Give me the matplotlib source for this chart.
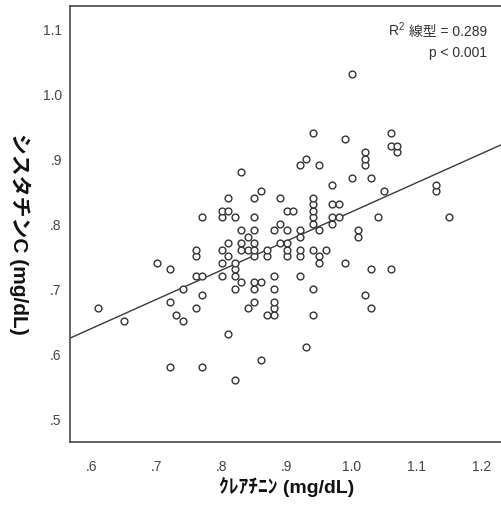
import numpy as np
import matplotlib
matplotlib.use('Agg')
import matplotlib.pyplot as plt

plt.rcParams['font.family'] = ['Liberation Sans', 'Noto Sans CJK JP', 'DejaVu Sans']
plt.rcParams['mathtext.fontset'] = 'custom'
plt.rcParams['mathtext.rm'] = 'Liberation Sans'
plt.rcParams['mathtext.it'] = 'Liberation Sans'

# creatinine (x) and cystatin C (y), one line per cystatin value
creatinine = [
    0.82,
    0.72, 0.77,
    0.86,
    0.93,
    0.81,
    0.65, 0.74,
    0.73, 0.87, 0.88, 0.94,
    0.61, 0.76, 0.84, 0.88, 1.03,
    0.72, 0.85, 0.88,
    0.77, 1.02,
    0.74, 0.82, 0.85, 0.88, 0.94,
    0.83, 0.85, 0.86,
    0.76, 0.77, 0.80, 0.82, 0.88, 0.92,
    0.72, 0.82, 1.03, 1.06,
    0.70, 0.80, 0.82, 0.95, 0.99,
    0.76, 0.81, 0.85, 0.87, 0.90, 0.92, 0.95,
    0.76, 0.80, 0.83, 0.84, 0.85, 0.87, 0.90, 0.92, 0.94, 0.96,
    0.81, 0.83, 0.85, 0.89, 0.90,
    0.84, 0.92, 1.01,
    0.83, 0.85, 0.88, 0.90, 0.92, 0.95, 1.01,
    0.89, 0.94, 0.97,
    0.77, 0.80, 0.82, 0.85, 0.94, 0.97, 0.98, 1.04, 1.15,
    0.80, 0.81, 0.90, 0.91, 0.94,
    0.94, 0.97, 0.98,
    0.81, 0.85, 0.89, 0.94,
    0.86, 1.05, 1.13,
    0.97, 1.13,
    1.00, 1.03,
    0.83,
    0.92, 0.95, 1.02,
    0.93, 1.02,
    1.02, 1.07,
    1.06, 1.07,
    0.99,
    0.94, 1.06,
    1.00,
]
cystatin = [
    0.56,
    0.58, 0.58,
    0.59,
    0.61,
    0.63,
    0.65, 0.65,
    0.66, 0.66, 0.66, 0.66,
    0.67, 0.67, 0.67, 0.67, 0.67,
    0.68, 0.68, 0.68,
    0.69, 0.69,
    0.70, 0.70, 0.70, 0.70, 0.70,
    0.71, 0.71, 0.71,
    0.72, 0.72, 0.72, 0.72, 0.72, 0.72,
    0.73, 0.73, 0.73, 0.73,
    0.74, 0.74, 0.74, 0.74, 0.74,
    0.75, 0.75, 0.75, 0.75, 0.75, 0.75, 0.75,
    0.76, 0.76, 0.76, 0.76, 0.76, 0.76, 0.76, 0.76, 0.76, 0.76,
    0.77, 0.77, 0.77, 0.77, 0.77,
    0.78, 0.78, 0.78,
    0.79, 0.79, 0.79, 0.79, 0.79, 0.79, 0.79,
    0.80, 0.80, 0.80,
    0.81, 0.81, 0.81, 0.81, 0.81, 0.81, 0.81, 0.81, 0.81,
    0.82, 0.82, 0.82, 0.82, 0.82,
    0.83, 0.83, 0.83,
    0.84, 0.84, 0.84, 0.84,
    0.85, 0.85, 0.85,
    0.86, 0.86,
    0.87, 0.87,
    0.88,
    0.89, 0.89, 0.89,
    0.90, 0.90,
    0.91, 0.91,
    0.92, 0.92,
    0.93,
    0.94, 0.94,
    1.03,
]

x_ticks = [0.6, 0.7, 0.8, 0.9, 1.0, 1.1, 1.2]
y_ticks = [0.5, 0.6, 0.7, 0.8, 0.9, 1.0, 1.1]
r2_label = ' 線型 = 0.289'
p_label = 'p < 0.001'

x = np.array(creatinine)
y = np.array(cystatin)
slope, intercept = np.polyfit(x, y, 1)

fig = plt.figure(figsize=(5.01, 5.10), dpi=100)
ax = fig.add_axes([70 / 501, 67 / 510, 433 / 501, 436 / 510])

xmin, xmax = 0.5665, 1.2325
ax.set_xlim(xmin, xmax)
ax.set_ylim(0.4643, 1.135)

xl = np.array([xmin, xmax])
ax.plot(xl, intercept + slope * xl, color='#3a3a3a', lw=1.0, zorder=2)
ax.plot(x, y, 'o', ms=4.9, mfc='white', mec='#333333', mew=1.0, zorder=3)

ax.set_xticks(x_ticks)
ax.set_yticks(y_ticks)
ax.set_xticklabels([f'{v:.1f}'.lstrip('0') for v in x_ticks])
ax.set_yticklabels([f'{v:.1f}'.lstrip('0') for v in y_ticks])
ax.tick_params(length=0, labelsize=10, labelcolor='#444444')
ax.tick_params(axis='x', pad=12)
ax.tick_params(axis='y', pad=6)

for s in ax.spines.values():
    s.set_color('#555555')
    s.set_linewidth(1.3)

t1 = ax.text(0.963, 0.934, r2_label, ha='right', va='baseline',
             transform=ax.transAxes, fontsize=10, color='#333333')
ax.annotate('R$^2$', xy=(0, 0.934), xycoords=(t1, 'axes fraction'),
            ha='right', va='baseline', fontsize=10, color='#333333')
ax.text(0.963, 0.886, p_label, ha='right', va='baseline',
        transform=ax.transAxes, fontsize=10, color='#333333')

fig.text(287 / 501, 1 - 487 / 510, 'ｸﾚｱﾁﾆﾝ (mg/dL)', ha='center', va='center',
         fontsize=14, fontweight='bold', color='#111111')
fig.text(20 / 501, 1 - 234 / 510, 'シスタチンC (mg/dL)', ha='center', va='center',
         rotation=270, fontsize=15, fontweight='bold', color='#111111')

fig.savefig('out.png', dpi=100)
